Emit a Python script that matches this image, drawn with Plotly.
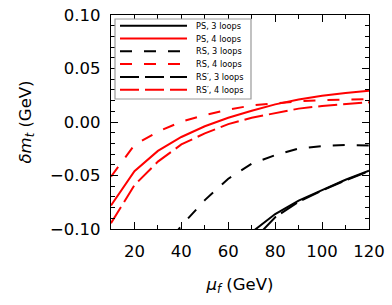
import plotly.graph_objects as go

# ---- data ----
mu_f = [10, 20, 30, 40, 50, 60, 70, 80, 90, 100, 110, 120]
ps_4loops = [-0.078, -0.046, -0.027, -0.014, -0.004, 0.004, 0.0105, 0.0165, 0.021, 0.0245, 0.027, 0.0293]
rs_4loops = [-0.051, -0.0215, -0.009, 0.0003, 0.0065, 0.0115, 0.0155, 0.0177, 0.0193, 0.0204, 0.021, 0.0213]
rsp_4loops = [-0.0946, -0.059, -0.037, -0.021, -0.0106, -0.002, 0.004, 0.0085, 0.0125, 0.015, 0.017, 0.0184]

mu_f_rs3 = [30, 40, 50, 60, 70, 80, 90, 100, 110, 120]
rs_3loops = [-0.125, -0.097, -0.073, -0.053, -0.039, -0.031, -0.0248, -0.0225, -0.0215, -0.022]

mu_f_ps3 = [60, 70, 80, 90, 100, 110, 120]
ps_3loops = [-0.125, -0.103, -0.086, -0.0735, -0.0636, -0.054, -0.0455]
rsp_3loops = [-0.135, -0.112, -0.089, -0.0745, -0.064, -0.0545, -0.046]

names = ["PS, 3 loops", "PS, 4 loops", "RS, 3 loops", "RS, 4 loops", "RS\u2032, 3 loops", "RS\u2032, 4 loops"]
xs = [mu_f_ps3, mu_f, mu_f_rs3, mu_f, mu_f_ps3, mu_f]
ys = [ps_3loops, ps_4loops, rs_3loops, rs_4loops, rsp_3loops, rsp_4loops]
colors = ["black", "red", "black", "red", "black", "red"]
dashes = ["solid", "solid", "12px,12px", "12px,12px", "19px,6px", "19px,6px"]

W, H = 392, 305
ML, MR, MT, MB = 111, 23, 15, 76
PW, PH = W - ML - MR, H - MT - MB
FONT = "DejaVu Sans"

fig = go.Figure()
for x, y, n, c, d in zip(xs, ys, names, colors, dashes):
    fig.add_trace(go.Scatter(x=x, y=y, mode="lines", name=n,
                             line=dict(color=c, width=2, dash=d), showlegend=False))

# ---- legend box drawn in paper coordinates ----
def px2x(p):
    return (p - ML) / PW

def py2y(p):
    return 1 - (p - MT) / PH

shapes = [dict(type="rect", xref="paper", yref="paper",
               x0=px2x(115), x1=px2x(251), y0=py2y(99), y1=py2y(19),
               fillcolor="white", line=dict(color="#999999", width=1.2), layer="above")]
annotations = []
row0, drow = 25.7, 12.8
for i, (n, c, d) in enumerate(zip(names, colors, dashes)):
    yy = py2y(row0 + i * drow)
    shapes.append(dict(type="line", xref="paper", yref="paper",
                       x0=px2x(120), x1=px2x(187), y0=yy, y1=yy,
                       line=dict(color=c, width=2, dash=d), layer="above"))
    annotations.append(dict(xref="paper", yref="paper", x=px2x(194), y=yy,
                            text=n, showarrow=False, xanchor="left", yanchor="middle",
                            font=dict(family=FONT, size=8.2, color="black")))

axis_common = dict(showline=True, linecolor="black", linewidth=1.3, mirror="ticks",
                   ticks="inside", ticklen=7, tickwidth=1.2, tickcolor="black",
                   showgrid=False, zeroline=False, automargin=False,
                   tickfont=dict(family=FONT, size=16.5, color="black"))

fig.update_layout(
    width=W, height=H,
    margin=dict(l=ML, r=MR, t=MT, b=MB, autoexpand=False),
    plot_bgcolor="white", paper_bgcolor="white",
    shapes=shapes, annotations=annotations,
    showlegend=False,
    xaxis=dict(range=[10, 120], tick0=0, dtick=20,
               minor=dict(dtick=10, ticks="inside", ticklen=3.5, tickwidth=1, tickcolor="black"),
               ticklabelstandoff=7,
               title=dict(text="<i>\u03bc</i><sub><i>f</i></sub> (GeV)",
                          font=dict(family=FONT, size=16.5, color="black"), standoff=18),
               **axis_common),
    yaxis=dict(range=[-0.1, 0.1], tick0=0, dtick=0.05, tickformat=".2f",
               minor=dict(dtick=0.01, ticks="inside", ticklen=3.5, tickwidth=1, tickcolor="black"),
               ticklabelstandoff=6,
               title=dict(text="<i>\u03b4m</i><sub><i>t</i></sub> (GeV)",
                          font=dict(family=FONT, size=16.5, color="black"), standoff=14),
               **axis_common),
)

fig.write_html("out.html", config={"displayModeBar": False},
               post_script="document.body.style.margin='0';")
